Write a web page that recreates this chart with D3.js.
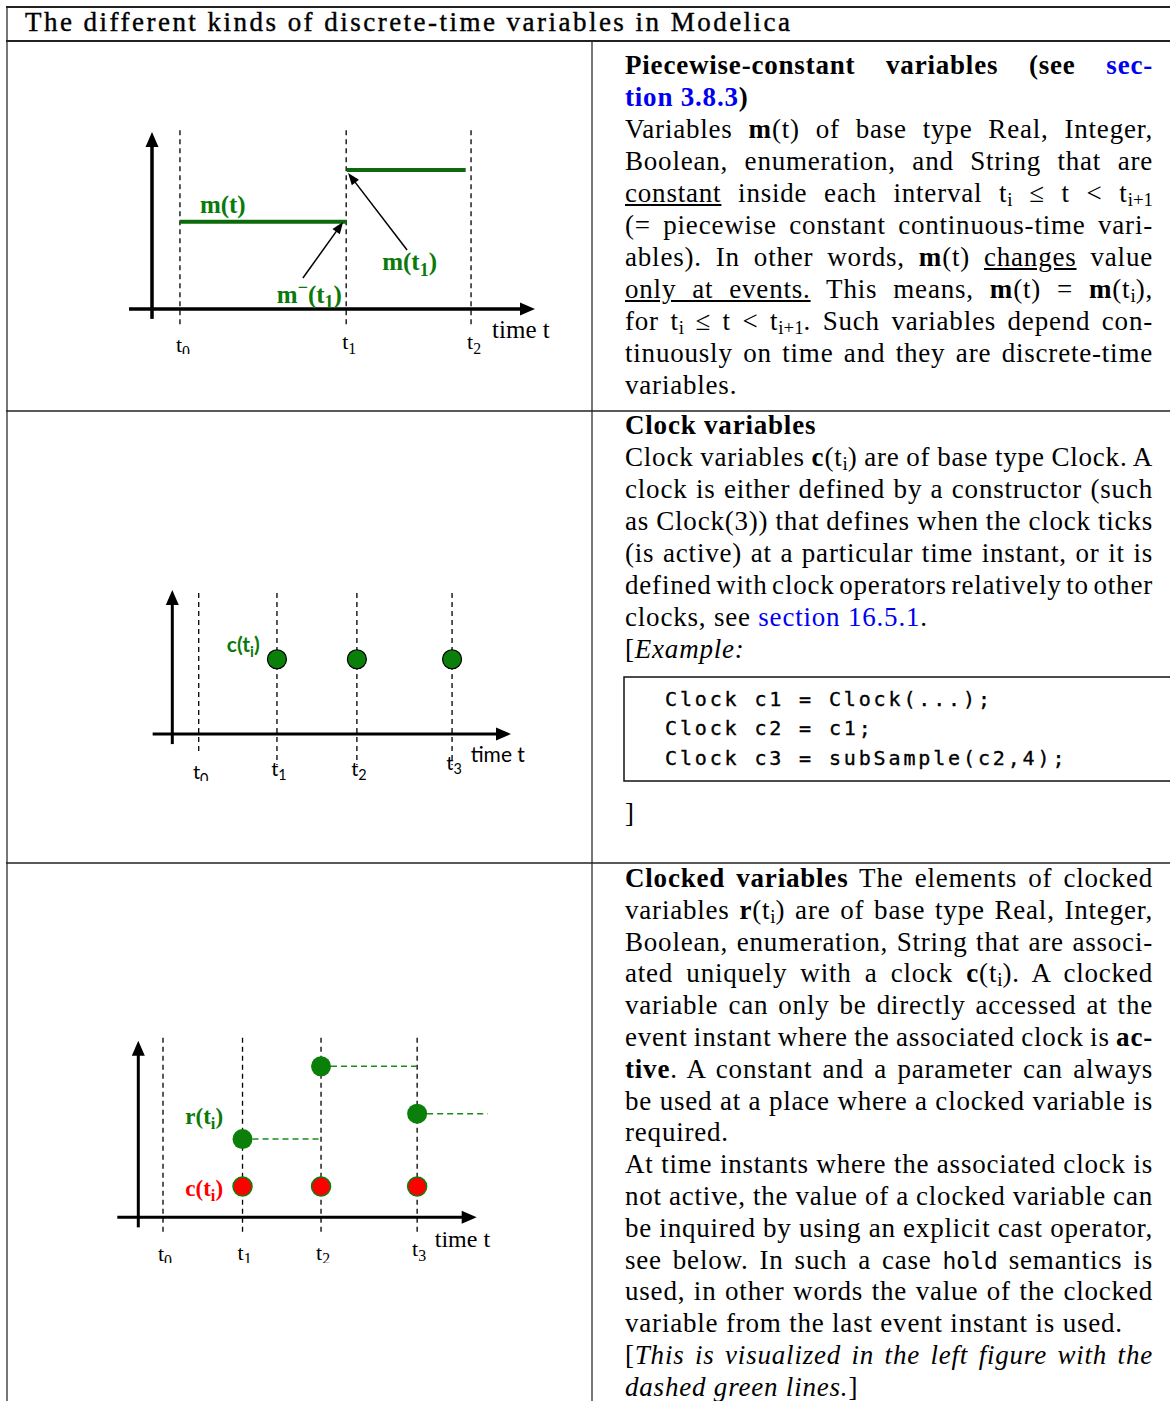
<!DOCTYPE html>
<html>
<head>
<meta charset="utf-8">
<script src="https://cdn.jsdelivr.net/npm/d3@7"></script>
<style>
  body { margin: 0; background: #fff; width: 1170px; height: 1401px; overflow: hidden; position: relative; }
  #chart { position: absolute; left: 0; top: 0; }
  .ln { position: absolute; white-space: nowrap; font-family: "Liberation Serif", serif; font-size: 27px; line-height: 32px; letter-spacing: 0.8px; color: #000; }
  .sub { font-size: 0.7em; vertical-align: -0.22em; line-height: 0; letter-spacing: 0; }
  .lnk { color: #0000f0; }
  .tt { font-family: "DejaVu Sans Mono", monospace; font-size: 0.85em; letter-spacing: 0; }
  .code { position: absolute; white-space: pre; font-family: "DejaVu Sans Mono", monospace; font-size: 20px; line-height: 30px; letter-spacing: 2.86px; color: #000; -webkit-text-stroke: 0.35px #000; }
</style>
</head>
<body>
<svg id="chart" width="1170" height="1401"></svg>
<script>
// ---- figure 1: piecewise-constant m(t) ----
const pcTickLabels = ["0", "1", "2"];
const pcEventTimes = [7.3, 50.7, 83.3];
const pcSegStart = [7.3, 50.9];
const pcSegEnd = [50.9, 81.9];
const pcSegValue = [49.3, 78.5];
const pcArrowFrom = [[39.4, 17.5], [66.6, 33.3]];
const pcArrowTo = [[49.9, 49.2], [51.2, 76.8]];

// ---- figure 2: clock ticks c(ti) ----
const ckTickLabels = ["0", "1", "2", "3"];
const ckEventTimes = [7.8, 30.9, 54.5, 82.6];
const ckPointTimes = [30.9, 54.5, 82.6];
const ckPointValues = [51.9, 51.9, 51.9];

// ---- figure 3: clocked r(ti) with hold ----
const cvTickLabels = ["0", "1", "2", "3"];
const cvEventTimes = [7.3, 30.8, 54.0, 82.4];
const cvClockTimes = [30.8, 54.0, 82.4];
const cvClockValues = [17.4, 17.4, 17.4];
const cvRealValues = [44.3, 85.5, 58.7];
const cvHoldEnd = [54.0, 82.4, 103.2];

// ---- text column ----
const titleText = "The different kinds of discrete-time variables in Modelica";
const row1Lines = [
  ['<b>Piecewise-constant variables (see</b> <b class="lnk">sec-</b>', 1],
  ['<b class="lnk">tion 3.8.3</b><b>)</b>', 0],
  ['Variables <b>m</b>(t) of base type Real, Integer,', 1],
  ['Boolean, enumeration, and String that are', 1],
  ['<u>constant</u> inside each interval t<span class="sub">i</span> ≤ t &lt; t<span class="sub">i+1</span>', 1],
  ['(= piecewise constant continuous-time vari-', 1],
  ['ables). In other words, <b>m</b>(t) <u>changes</u> value', 1],
  ['<u>only at events.</u> This means, <b>m</b>(t) = <b>m</b>(t<span class="sub">i</span>),', 1],
  ['for t<span class="sub">i</span> ≤ t &lt; t<span class="sub">i+1</span>. Such variables depend con-', 1],
  ['tinuously on time and they are discrete-time', 1],
  ['variables.', 0]
];
const row2Lines = [
  ['<b>Clock variables</b>', 0],
  ['Clock variables <b>c</b>(t<span class="sub">i</span>) are of base type Clock. A', 1],
  ['clock is either defined by a constructor (such', 1],
  ['as Clock(3)) that defines when the clock ticks', 1],
  ['(is active) at a particular time instant, or it is', 1],
  ['defined with clock operators relatively to other', 1],
  ['clocks, see <span class="lnk">section 16.5.1</span>.', 0],
  ['[<i>Example:</i>', 0]
];
const codeLines = ["Clock c1 = Clock(...);", "Clock c2 = c1;", "Clock c3 = subSample(c2,4);"];
const row3Lines = [
  ['<b>Clocked variables</b> The elements of clocked', 1],
  ['variables <b>r</b>(t<span class="sub">i</span>) are of base type Real, Integer,', 1],
  ['Boolean, enumeration, String that are associ-', 1],
  ['ated uniquely with a clock <b>c</b>(t<span class="sub">i</span>). A clocked', 1],
  ['variable can only be directly accessed at the', 1],
  ['event instant where the associated clock is <b>ac-</b>', 1],
  ['<b>tive</b>. A constant and a parameter can always', 1],
  ['be used at a place where a clocked variable is', 1],
  ['required.', 0],
  ['At time instants where the associated clock is', 1],
  ['not active, the value of a clocked variable can', 1],
  ['be inquired by using an explicit cast operator,', 1],
  ['see below. In such a case <span class="tt">hold</span> semantics is', 1],
  ['used, in other words the value of the clocked', 1],
  ['variable from the last event instant is used.', 0],
  ['[<i>This is visualized in the left figure with the</i>', 1],
  ['<i>dashed green lines.</i>]', 0]
];

const GREEN = "#0a7a0a";
const SERIF = '"Liberation Serif", serif';
const SANS = 'Lato, "Open Sans", sans-serif';
const BASE_OFF = 25.1;   // baseline offset inside a 32px line box at 27px

const svg = d3.select("#chart");

// table rules
function rule(x1, y1, x2, y2, color, w) {
  svg.append("line").attr("x1", x1).attr("y1", y1).attr("x2", x2).attr("y2", y2)
    .attr("stroke", color).attr("stroke-width", w);
}
rule(7, 7, 7, 1401, "#777", 2);
rule(592, 41, 592, 1401, "#777", 2);
rule(6, 7, 1170, 7, "#222", 2);
rule(6, 41, 1170, 41, "#222", 2);
rule(6, 411, 1170, 411, "#222", 1.6);
rule(6, 863, 1170, 863, "#222", 1.6);

// ---------- helpers ----------
function arrowHead(g, tx, ty, ang, len, wid) {
  const pts = [[0, 0], [-len, -wid / 2], [-len, wid / 2]].map(function(p) {
    return [tx + p[0] * Math.cos(ang) - p[1] * Math.sin(ang),
            ty + p[0] * Math.sin(ang) + p[1] * Math.cos(ang)];
  });
  g.append("path").attr("d", "M" + pts.join("L") + "Z").attr("fill", "#000");
}

function rich(g, parts, px, py, fs, opts) {
  const t = g.append("text").attr("x", px).attr("y", py)
    .attr("font-family", opts.font).attr("font-size", fs)
    .attr("font-weight", opts.weight || "normal")
    .attr("fill", opts.color || "#000")
    .attr("text-anchor", opts.anchor || "start");
  let cur = 0;
  parts.forEach(function(p) {
    const target = p[1] === "sub" ? fs * 0.22 : (p[1] === "sup" ? -fs * 0.38 : 0);
    const ts = t.append("tspan").text(p[0]).attr("dy", target - cur);
    if (p[1]) ts.attr("font-size", fs * 0.72);
    cur = target;
  });
  return t;
}

function frame(g, x, y, xStart, yStart, w) {
  g.append("line").attr("x1", x(xStart)).attr("x2", x(100) - 10)
    .attr("y1", y(0)).attr("y2", y(0)).attr("stroke", "#000").attr("stroke-width", w);
  arrowHead(g, x(100), y(0), 0, 15, 13);
  g.append("line").attr("x1", x(0)).attr("x2", x(0))
    .attr("y1", y(yStart)).attr("y2", y(100) + 10).attr("stroke", "#000").attr("stroke-width", w);
  arrowHead(g, x(0), y(100), -Math.PI / 2, 15, 13);
}

function eventLines(g, x, y, times, top, bottoms) {
  g.selectAll(null).data(times).enter().append("line")
    .attr("x1", function(d) { return x(d); }).attr("x2", function(d) { return x(d); })
    .attr("y1", y(top)).attr("y2", function(d, i) { return y(bottoms[i]); })
    .attr("stroke", "#000").attr("stroke-width", 1.3).attr("stroke-dasharray", "5,4");
}

function clipped(id, x0, y0, w, h) {
  svg.append("clipPath").attr("id", id).append("rect")
    .attr("x", x0).attr("y", y0).attr("width", w).attr("height", h);
  return svg.append("g").attr("clip-path", "url(#" + id + ")");
}

// ---------- figure 1 ----------
(function() {
  const g = clipped("c1", 100, 100, 480, 254);
  const x = d3.scaleLinear().domain([0, 100]).range([152, 535]);
  const y = d3.scaleLinear().domain([0, 100]).range([309, 132]);
  eventLines(g, x, y, pcEventTimes, 101, [-9, -9, -9]);
  frame(g, x, y, -6, -5.6, 3.5);
  g.selectAll(null).data(pcSegValue).enter().append("line")
    .attr("x1", function(d, i) { return x(pcSegStart[i]); })
    .attr("x2", function(d, i) { return x(pcSegEnd[i]); })
    .attr("y1", function(d) { return y(d); }).attr("y2", function(d) { return y(d); })
    .attr("stroke", "#0b6b0b").attr("stroke-width", 4);
  pcArrowFrom.forEach(function(f, i) {
    const t = pcArrowTo[i];
    const x1 = x(f[0]), y1 = y(f[1]), x2 = x(t[0]), y2 = y(t[1]);
    const ang = Math.atan2(y2 - y1, x2 - x1);
    g.append("line").attr("x1", x1).attr("y1", y1)
      .attr("x2", x2 - 8 * Math.cos(ang)).attr("y2", y2 - 8 * Math.sin(ang))
      .attr("stroke", "#000").attr("stroke-width", 1.5);
    arrowHead(g, x2, y2, ang, 12, 9);
  });
  const lab = { font: SERIF, weight: "bold", color: GREEN };
  rich(g, [["m(t)"]], x(12.5), y(54.2), 25, lab);
  rich(g, [["m(t"], ["1", "sub"], [")"]], x(60.1), y(22.0), 25, lab);
  rich(g, [["m"], ["\u2212", "sup"], ["(t"], ["1", "sub"], [")"]], x(32.6), y(3.4), 25, lab);
  rich(g, [["time t"]], x(88.8), y(-16.4), 25, { font: SERIF });
  pcTickLabels.forEach(function(s, i) {
    rich(g, [["t"], [s, "sub"]], x(pcEventTimes[i]) + 3, y(i === 0 ? -24.3 : -22.6), 22, { font: SERIF, anchor: "middle" });
  });
})();

// ---------- figure 2 ----------
(function() {
  const g = clipped("c2", 120, 570, 460, 211);
  const x = d3.scaleLinear().domain([0, 100]).range([172.3, 511]);
  const y = d3.scaleLinear().domain([0, 100]).range([734, 590]);
  eventLines(g, x, y, ckEventTimes, 97.9, [-12.5, -21.5, -21.5, -21.5]);
  frame(g, x, y, -5.8, -7, 3);
  g.selectAll(null).data(ckPointValues).enter().append("circle")
    .attr("cx", function(d, i) { return x(ckPointTimes[i]); })
    .attr("cy", function(d) { return y(d); })
    .attr("r", 9.5).attr("fill", "#0a800a").attr("stroke", "#000").attr("stroke-width", 1.2);
  rich(g, [["c(t"], ["i", "sub"], [")"]], x(16.1), y(56.9), 21, { font: SANS, weight: "bold", color: GREEN });
  rich(g, [["time t"]], x(88.1), y(-19.4), 21, { font: SANS });
  ckTickLabels.forEach(function(s, i) {
    const b = i === 0 ? -31.5 : (i === 3 ? -25 : -29.2);
    rich(g, [["t"], [s, "sub"]], x(ckEventTimes[i]) + 2, y(b), 20, { font: SANS, anchor: "middle" });
  });
})();

// ---------- figure 3 ----------
(function() {
  const g = clipped("c3", 100, 1025, 480, 238);
  const x = d3.scaleLinear().domain([0, 100]).range([138.3, 476.7]);
  const y = d3.scaleLinear().domain([0, 100]).range([1217.3, 1040.7]);
  eventLines(g, x, y, cvEventTimes, 101.7, [-10.2, -10.2, -10.2, -10.2]);
  frame(g, x, y, -6.2, -5.7, 3);
  g.selectAll(null).data(cvRealValues).enter().append("line")
    .attr("x1", function(d, i) { return x(cvClockTimes[i]) + 10; })
    .attr("x2", function(d, i) { return x(cvHoldEnd[i]); })
    .attr("y1", function(d) { return y(d); }).attr("y2", function(d) { return y(d); })
    .attr("stroke", "#1a8a1a").attr("stroke-width", 1.5).attr("stroke-dasharray", "6,4");
  g.selectAll(null).data(cvRealValues).enter().append("circle")
    .attr("cx", function(d, i) { return x(cvClockTimes[i]); })
    .attr("cy", function(d) { return y(d); })
    .attr("r", 10).attr("fill", "#0a800a");
  g.selectAll(null).data(cvClockValues).enter().append("circle")
    .attr("cx", function(d, i) { return x(cvClockTimes[i]); })
    .attr("cy", function(d) { return y(d); })
    .attr("r", 9.5).attr("fill", "#ff0000").attr("stroke", "#0a800a").attr("stroke-width", 1.5);
  rich(g, [["r(t"], ["i", "sub"], [")"]], x(13.9), y(52.8), 23, { font: SERIF, weight: "bold", color: GREEN });
  rich(g, [["c(t"], ["i", "sub"], [")"]], x(13.9), y(11.9), 23, { font: SERIF, weight: "bold", color: "#ff0000" });
  rich(g, [["time t"]], x(87.6), y(-17), 24, { font: SERIF });
  cvTickLabels.forEach(function(s, i) {
    const b = i === 0 ? -25 : (i === 3 ? -22 : -23.9);
    rich(g, [["t"], [s, "sub"]], x(cvEventTimes[i]) + 2, y(b), 22, { font: SERIF, anchor: "middle" });
  });
})();

// ---------- text ----------
function placeLines(lines, x0, y0, step, width) {
  lines.forEach(function(l, i) {
    const base = y0 + i * step;
    const div = d3.select("body").append("div").attr("class", "ln")
      .style("left", x0 + "px").style("top", (base - BASE_OFF) + "px")
      .html(l[0]);
    if (l[1]) {
      const node = div.node();
      const w = node.getBoundingClientRect().width;
      const n = (node.textContent.match(/ /g) || []).length;
      if (n) div.style("word-spacing", ((width - w) / n) + "px");
    }
  });
}

const title = d3.select("body").append("div").attr("class", "ln")
  .style("left", "25px").style("top", (31 - BASE_OFF) + "px")
  .style("letter-spacing", "0px")
  .style("-webkit-text-stroke", "0.4px #000")
  .text(titleText);
(function() {
  const w = title.node().getBoundingClientRect().width;
  title.style("letter-spacing", ((765 - w) / (titleText.length - 1)) + "px");
})();

placeLines(row1Lines, 625, 74, 32, 528);
placeLines(row2Lines, 625, 434, 32, 528);
placeLines(row3Lines, 625, 887, 31.8, 528);

svg.append("rect").attr("x", 624).attr("y", 677).attr("width", 560).attr("height", 104)
  .attr("fill", "none").attr("stroke", "#111").attr("stroke-width", 1.5);
codeLines.forEach(function(c, i) {
  d3.select("body").append("div").attr("class", "code")
    .style("left", "665px").style("top", (706 + i * 29.5 - 22.5) + "px")
    .text(c);
});
d3.select("body").append("div").attr("class", "ln")
  .style("left", "625px").style("top", (822 - BASE_OFF) + "px").text("]");
</script>
</body>
</html>
